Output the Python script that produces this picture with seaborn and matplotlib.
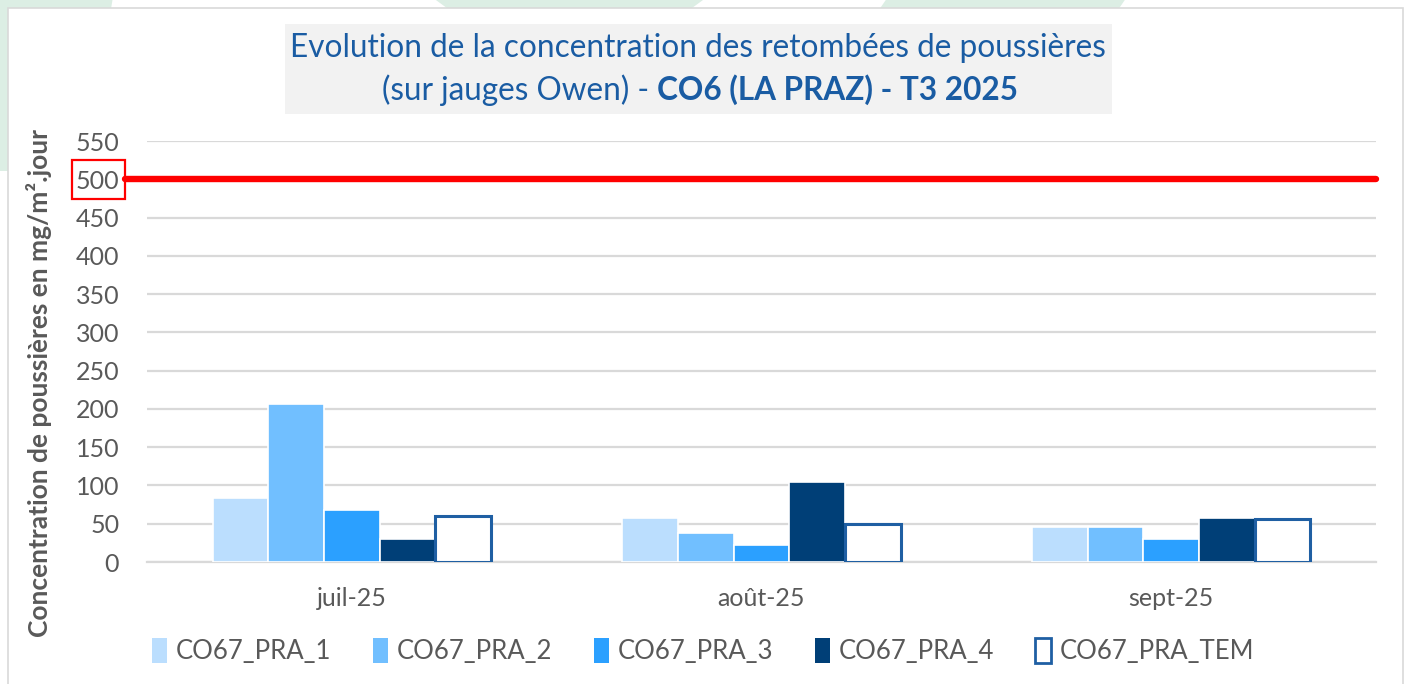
import pandas as pd
import matplotlib.pyplot as plt
import seaborn as sns
from matplotlib.patches import Rectangle, Polygon, Patch

# data (mg/m2.jour)
months = ["juil-25", "août-25", "sept-25"]
pra_1 = [84, 57, 46]
pra_2 = [207, 38, 46]
pra_3 = [68, 22, 30]
pra_4 = [30, 104, 58]
pra_tem = [60, 50, 56]
series = ["CO67_PRA_1", "CO67_PRA_2", "CO67_PRA_3", "CO67_PRA_4", "CO67_PRA_TEM"]
threshold = 500
yticks = list(range(0, 551, 50))

data = pd.DataFrame({
    "Mois": months * 5,
    "Jauge": [s for s in series for _ in months],
    "Valeur": pra_1 + pra_2 + pra_3 + pra_4 + pra_tem,
})

fills = ["#BBDEFE", "#71BFFF", "#2BA0FF", "#003F77", "#FFFFFF"]
tem_edge = "#1F5FA3"
grey_txt = "#595959"
title_blue = "#1A5CA3"

sns.set_style("white")
plt.rcParams["font.family"] = ["Lato", "DejaVu Sans"]

fig = plt.figure(figsize=(14.06, 6.84), dpi=100)

# faint green decorations behind the frame
for pts in [
    [(0, 1.0), (0.08, 1.0), (0.06, 0.75), (0, 0.75)],
    [(0.31, 1.0), (0.50, 1.0), (0.48, 0.97), (0.33, 0.97)],
    [(0.63, 1.0), (0.80, 1.0), (0.79, 0.97), (0.62, 0.97)],
]:
    fig.patches.append(Polygon(pts, closed=True, transform=fig.transFigure,
                               facecolor="#DCEEE4", edgecolor="none", zorder=-3))

# chart frame
fig.patches.append(Rectangle((8 / 1406, -0.01), 1395 / 1406, 1 - 8 / 684 + 0.01,
                             transform=fig.transFigure, facecolor="white",
                             edgecolor="#D9D9D9", linewidth=1.2, zorder=-2))

# title box
fig.patches.append(Rectangle((285 / 1406, 1 - 114 / 684), 827 / 1406, 90 / 684,
                             transform=fig.transFigure, facecolor="#F2F2F2",
                             edgecolor="none", zorder=-1))

ax = fig.add_axes([147 / 1406, 1 - 562 / 684, (1376 - 147) / 1406, 421 / 684])
ax.set_facecolor("none")

sns.barplot(data=data, x="Mois", y="Valeur", hue="Jauge", hue_order=series,
            palette=fills, saturation=1, width=0.68, edgecolor="white",
            linewidth=1.2, legend=False, ax=ax, zorder=3)

# the TEM bars are outlined only
n = len(months)
for p in ax.patches[4 * n:5 * n]:
    p.set_edgecolor(tem_edge)
    p.set_linewidth(2.2)

ax.set_ylim(0, 550)
ax.set_xlim(-0.5, 2.5)
ax.set_yticks(yticks)
ax.yaxis.grid(True, color="#D9D9D9", linewidth=1.6, zorder=0)
ax.set_axisbelow(True)
for s in ["left", "right", "top"]:
    ax.spines[s].set_visible(False)
ax.spines["bottom"].set_color("#D9D9D9")
ax.spines["bottom"].set_linewidth(1.6)

ax.tick_params(axis="y", length=0, pad=20, labelsize=18, labelcolor=grey_txt)
ax.tick_params(axis="x", which="major", length=0, pad=18, labelsize=18,
               labelcolor=grey_txt)
ax.set_xticks([-0.5, 0.5, 1.5, 2.5], minor=True)
ax.tick_params(axis="x", which="minor", length=8, width=1.6, color="#D9D9D9")
ax.set_xlabel("")
ax.set_ylabel("")

# threshold line and highlight around its tick label
ax.axhline(threshold, xmin=-0.018, xmax=1, color="#FF0000", linewidth=4.6,
           clip_on=False, zorder=4)
fig.patches.append(Rectangle((72 / 1406, 1 - 199 / 684), 53 / 1406, 39 / 684,
                             transform=fig.transFigure, facecolor="none",
                             edgecolor="#FF0000", linewidth=1.6, zorder=5))

fig.text(39 / 1406, 1 - 383 / 684, "Concentration de poussières en mg/m².jour",
         rotation=90, ha="center", va="center", fontsize=19,
         fontweight="bold", color=grey_txt)

fig.text(698 / 1406, 1 - 48 / 684,
         "Evolution de la concentration des retombées de poussières",
         ha="center", va="center", fontsize=22.7, color=title_blue, zorder=6)
t2 = fig.text(382 / 1406, 1 - 90 / 684, "(sur jauges Owen) - ",
              ha="left", va="center", fontsize=22.7, color=title_blue, zorder=6)
ax.annotate("CO6 (LA PRAZ) - T3 2025", xy=(1, 0.5), xycoords=t2,
            ha="left", va="center", fontsize=22.7, fontweight="bold",
            color=title_blue, annotation_clip=False)

# legend
handles = [Patch(facecolor=c, edgecolor="white", linewidth=0) for c in fills[:4]]
handles.append(Patch(facecolor="white", edgecolor=tem_edge, linewidth=2))
leg = fig.legend(handles, series, loc="center", bbox_to_anchor=(0.5, 1 - 651 / 684),
                 ncol=5, frameon=False, fontsize=18.5, handlelength=0.6,
                 handleheight=1.1, handletextpad=0.35, columnspacing=1.6)
for txt in leg.get_texts():
    txt.set_color(grey_txt)

fig.savefig("out.png", dpi=100)
